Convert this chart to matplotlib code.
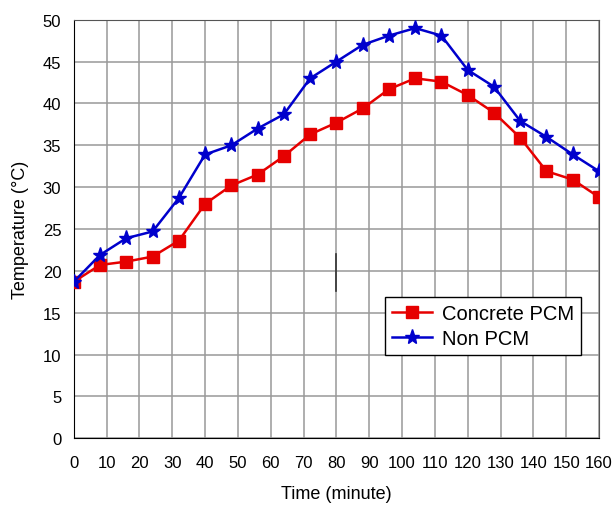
import matplotlib
matplotlib.use('Agg')
import matplotlib.pyplot as plt
import numpy as np

plt.rcParams['font.family'] = ['Liberation Sans', 'DejaVu Sans']

# time in minutes
time = [0, 8, 16, 24, 32, 40, 48, 56, 64, 72, 80, 88, 96, 104, 112, 120, 128, 136, 144, 152, 160]
# temperatures
concrete_pcm = [18.7, 20.7, 21.1, 21.7, 23.6, 28.0, 30.2, 31.5, 33.7, 36.3, 37.7, 39.4, 41.7, 43.0, 42.6,
                41.0, 38.9, 35.9, 31.9, 30.9, 28.8]
non_pcm = [18.7, 21.9, 23.9, 24.7, 28.7, 33.9, 35.0, 37.0, 38.7, 43.0, 45.0, 47.0, 48.1, 49.0, 48.1,
           44.0, 42.0, 37.9, 36.0, 33.9, 31.9]
xticks = list(range(0, 161, 10))
yticks = list(range(0, 51, 5))

fig = plt.figure(figsize=(6.15, 5.06), dpi=100)
ax = fig.add_axes([0.120, 0.132, 0.854, 0.827])

ax.plot(time, concrete_pcm, color='#e60000', marker='s', markersize=8, linewidth=1.8,
        label='Concrete PCM', zorder=3)
ax.plot(time, non_pcm, color='#0000cc', marker='*', markersize=11, linewidth=1.8,
        label='Non PCM', zorder=3)

# small stray mark that is in the original image
ax.plot([80, 80], [17.6, 22.0], color='#333333', linewidth=1.2, zorder=2)

ax.set_xlim(0, 160)
ax.set_ylim(0, 50)
ax.set_xticks(xticks)
ax.set_yticks(yticks)
ax.tick_params(labelsize=12, length=0)
ax.tick_params(axis='x', pad=12)
ax.tick_params(axis='y', pad=9)
ax.grid(True, color='#999999', linewidth=1.1)
ax.set_axisbelow(True)
for side in ['top', 'right']:
    ax.spines[side].set_color('#555555')
for side in ['left', 'bottom']:
    ax.spines[side].set_color('#000000')

ax.set_xlabel('Time (minute)', fontsize=13, labelpad=11)
ax.set_ylabel('Temperature (°C)', fontsize=13, labelpad=10)

leg = ax.legend(loc='lower left', bbox_to_anchor=(0.592, 0.198), fontsize=14.5, fancybox=False,
                framealpha=1, edgecolor='black', borderpad=0.35, handlelength=2.0,
                handletextpad=0.5, labelspacing=0.3, borderaxespad=0)
leg.get_frame().set_linewidth(1.0)

fig.savefig('out.png', dpi=100)
